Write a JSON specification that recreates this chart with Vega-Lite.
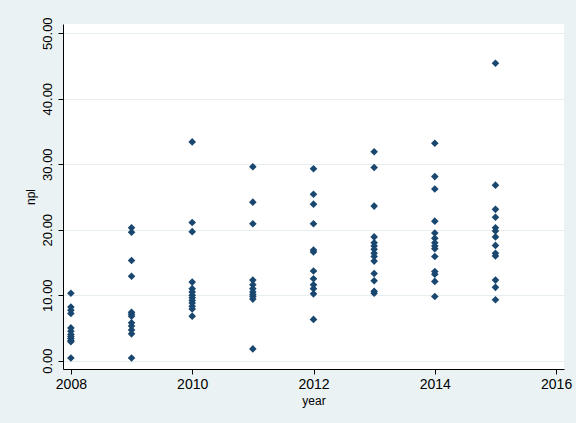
{
  "$schema": "https://vega.github.io/schema/vega-lite/v6.json",
  "autosize": {"type": "none"},
  "width": 501,
  "height": 345,
  "padding": {"left": 63, "top": 24, "right": 12, "bottom": 54},
  "background": "#EAF2F3",
  "config": {
    "view": {"fill": "white", "stroke": null},
    "font": "Liberation Sans"
  },
  "data": {
    "values": [
      {"year": 2008, "npl": 10.3}, {"year": 2008, "npl": 8.2}, {"year": 2008, "npl": 7.7}, {"year": 2008, "npl": 7.2},
      {"year": 2008, "npl": 5.0}, {"year": 2008, "npl": 4.5}, {"year": 2008, "npl": 4.0}, {"year": 2008, "npl": 3.7},
      {"year": 2008, "npl": 3.4}, {"year": 2008, "npl": 3.1}, {"year": 2008, "npl": 2.9}, {"year": 2008, "npl": 0.4},
      {"year": 2009, "npl": 20.3}, {"year": 2009, "npl": 19.6}, {"year": 2009, "npl": 15.3}, {"year": 2009, "npl": 12.9},
      {"year": 2009, "npl": 7.4}, {"year": 2009, "npl": 7.1}, {"year": 2009, "npl": 6.8}, {"year": 2009, "npl": 5.8},
      {"year": 2009, "npl": 5.3}, {"year": 2009, "npl": 4.7}, {"year": 2009, "npl": 4.1}, {"year": 2009, "npl": 0.4},
      {"year": 2010, "npl": 33.4}, {"year": 2010, "npl": 21.1}, {"year": 2010, "npl": 19.7}, {"year": 2010, "npl": 12.0},
      {"year": 2010, "npl": 11.0}, {"year": 2010, "npl": 10.5}, {"year": 2010, "npl": 10.0}, {"year": 2010, "npl": 9.6},
      {"year": 2010, "npl": 9.2}, {"year": 2010, "npl": 8.8}, {"year": 2010, "npl": 8.3}, {"year": 2010, "npl": 7.9},
      {"year": 2010, "npl": 6.8},
      {"year": 2011, "npl": 29.6}, {"year": 2011, "npl": 24.2}, {"year": 2011, "npl": 20.9}, {"year": 2011, "npl": 12.3},
      {"year": 2011, "npl": 11.6}, {"year": 2011, "npl": 11.0}, {"year": 2011, "npl": 10.5}, {"year": 2011, "npl": 10.1},
      {"year": 2011, "npl": 9.8}, {"year": 2011, "npl": 9.4}, {"year": 2011, "npl": 1.8},
      {"year": 2012, "npl": 29.3}, {"year": 2012, "npl": 25.4}, {"year": 2012, "npl": 23.9}, {"year": 2012, "npl": 20.9},
      {"year": 2012, "npl": 16.9}, {"year": 2012, "npl": 16.6}, {"year": 2012, "npl": 13.7}, {"year": 2012, "npl": 12.5},
      {"year": 2012, "npl": 11.6}, {"year": 2012, "npl": 11.0}, {"year": 2012, "npl": 10.2}, {"year": 2012, "npl": 6.3},
      {"year": 2013, "npl": 31.9}, {"year": 2013, "npl": 29.5}, {"year": 2013, "npl": 23.6}, {"year": 2013, "npl": 18.9},
      {"year": 2013, "npl": 18.0}, {"year": 2013, "npl": 17.5}, {"year": 2013, "npl": 17.0}, {"year": 2013, "npl": 16.4},
      {"year": 2013, "npl": 15.9}, {"year": 2013, "npl": 15.2}, {"year": 2013, "npl": 13.3}, {"year": 2013, "npl": 12.2},
      {"year": 2013, "npl": 10.6}, {"year": 2013, "npl": 10.3},
      {"year": 2014, "npl": 33.2}, {"year": 2014, "npl": 28.1}, {"year": 2014, "npl": 26.2}, {"year": 2014, "npl": 21.3},
      {"year": 2014, "npl": 19.5}, {"year": 2014, "npl": 18.7}, {"year": 2014, "npl": 18.0}, {"year": 2014, "npl": 17.5},
      {"year": 2014, "npl": 17.1}, {"year": 2014, "npl": 15.9}, {"year": 2014, "npl": 13.6}, {"year": 2014, "npl": 13.2},
      {"year": 2014, "npl": 12.1}, {"year": 2014, "npl": 9.8},
      {"year": 2015, "npl": 45.4}, {"year": 2015, "npl": 26.8}, {"year": 2015, "npl": 23.1}, {"year": 2015, "npl": 21.9},
      {"year": 2015, "npl": 20.3}, {"year": 2015, "npl": 19.8}, {"year": 2015, "npl": 18.9}, {"year": 2015, "npl": 17.6},
      {"year": 2015, "npl": 16.4}, {"year": 2015, "npl": 16.0}, {"year": 2015, "npl": 12.3}, {"year": 2015, "npl": 11.2},
      {"year": 2015, "npl": 9.3}
    ]
  },
  "mark": {"type": "point", "shape": "diamond", "filled": true, "size": 58, "color": "#1a476f", "opacity": 1},
  "encoding": {
    "x": {
      "field": "year", "type": "quantitative",
      "scale": {"domain": [2007.87, 2016.13], "nice": false, "zero": false},
      "axis": {
        "values": [2008, 2010, 2012, 2014, 2016], "format": "d", "grid": false,
        "title": "year", "titleFont": "Liberation Sans", "titleFontWeight": "normal", "titleFontSize": 12, "titleColor": "#000000", "titlePadding": 4,
        "labelFont": "Liberation Sans", "labelFontSize": 14, "labelColor": "#000000", "labelPadding": 3,
        "domainColor": "#000000", "tickColor": "#000000", "tickSize": 5, "labelFlush": false
      }
    },
    "y": {
      "field": "npl", "type": "quantitative",
      "scale": {"domain": [-1.27, 51.4], "nice": false, "zero": false},
      "axis": {
        "values": [0, 10, 20, 30, 40, 50], "format": ".2f", "grid": true, "gridColor": "#E6EEF0", "gridWidth": 1,
        "title": "npl", "titleFont": "Liberation Sans", "titleFontWeight": "normal", "titleFontSize": 12, "titleColor": "#000000", "titlePadding": 4,
        "labelFont": "Liberation Sans", "labelFontSize": 13, "labelColor": "#000000", "labelAngle": -90, "labelAlign": "center", "labelBaseline": "bottom", "labelPadding": 4,
        "domainColor": "#000000", "tickColor": "#000000", "tickSize": 5, "labelFlush": false
      }
    }
  }
}
